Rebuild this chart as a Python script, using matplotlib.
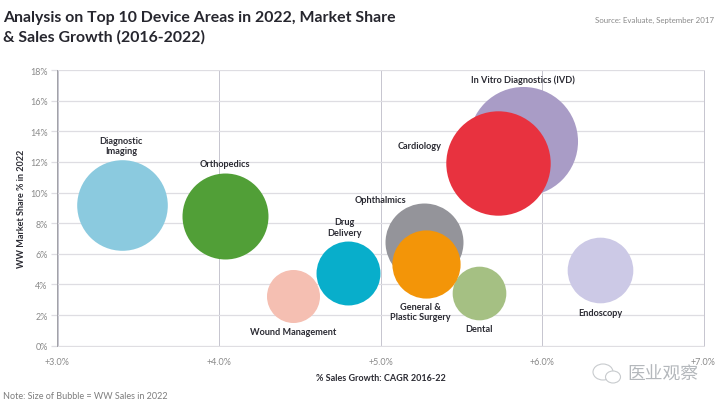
import matplotlib

matplotlib.use("Agg")
import matplotlib.pyplot as plt
from matplotlib.patches import Ellipse
from matplotlib.ticker import FuncFormatter

# values (draw order: back to front)
areas = ["Diagnostic\nImaging", "Orthopedics", "Wound Management", "Drug\nDelivery", "Ophthalmics",
         "Dental", "General &\nPlastic Surgery", "Endoscopy", "In Vitro Diagnostics (IVD)", "Cardiology"]
growth = [3.40, 4.035, 4.46, 4.80, 5.27, 5.61, 5.28, 6.36, 5.88, 5.73]
share = [9.2, 8.5, 3.22, 4.75, 6.78, 3.47, 5.35, 4.92, 13.35, 11.95]
sales = [48.2, 43.4, 16.5, 24.0, 35.7, 16.9, 27.3, 25.3, 69.8, 64.0]
colors = ["#8BCADF", "#519F37", "#F5BFB2", "#08AECB", "#94949A",
          "#A5C083", "#F39508", "#CCC9E6", "#A99CC6", "#E8323F"]
# label offset from bubble centre, in pixels
label_dx = [-1, 0, 0, -4, -44, 0, -5, 0, 0, -79]
label_dy = [59, 52, -35, 46, 42, -36, -48, -42, 62, 17]

x_ticks = [3, 4, 5, 6, 7]
y_ticks = [0, 2, 4, 6, 8, 10, 12, 14, 16, 18]

BUBBLE_SCALE = 88.3  # scatter s per unit of sales
C_TEXT = "#2b2b33"
C_TICK = "#8a8a8a"

plt.rcParams.update({
    "font.family": ["Lato", "DejaVu Sans"],
    "font.size": 7,
})

fig = plt.figure(figsize=(7.2, 4.06), dpi=100)
ax = fig.add_axes([57.5 / 720, 1 - 346.7 / 406, 646 / 720, 275.7 / 406])

ax.set_xlim(3, 7)
ax.set_ylim(0, 18)
ax.set_xticks(x_ticks)
ax.set_yticks(y_ticks)
ax.xaxis.set_major_formatter(FuncFormatter(lambda v, _: f"+{v:.1f}%"))
ax.yaxis.set_major_formatter(FuncFormatter(lambda v, _: f"{v:.0f}%"))
ax.grid(axis="y", color="#dedde2", lw=0.9, zorder=0)
ax.grid(axis="x", color="#c6c5cf", lw=0.7, zorder=0)
ax.set_axisbelow(True)
ax.tick_params(axis="y", length=4, width=0.9, color="#dedde2", labelsize=6.5, labelcolor=C_TICK, pad=3)
ax.tick_params(axis="x", length=0, labelsize=6.5, labelcolor=C_TICK, pad=8)
for name, sp in ax.spines.items():
    sp.set_color("#c6c5cf")
    sp.set_linewidth(0.7)
ax.spines["top"].set_color("#dedde2")
ax.spines["bottom"].set_color("#dedde2")
ax.spines["left"].set_color("#a0a0a6")

for i in range(len(areas)):
    ax.scatter(growth[i], share[i], s=sales[i] * BUBBLE_SCALE, color=colors[i], lw=0, zorder=3 + i,
               clip_on=False)
    ax.annotate(areas[i], (growth[i], share[i]), xytext=(label_dx[i], label_dy[i]),
                textcoords="offset pixels", ha="center", va="center", fontsize=6.6,
                fontweight="bold", color=C_TEXT, linespacing=1.2, zorder=20)

ax.set_xlabel("% Sales Growth: CAGR 2016-22", fontsize=6.5, fontweight="bold", color=C_TEXT, labelpad=5)
ax.set_ylabel("WW Market Share % in 2022", fontsize=6.5, fontweight="bold", color=C_TEXT, labelpad=3)

fig.text(3 / 720, 1 - 28 / 406, "Analysis on Top 10 Device Areas in 2022, Market Share\n& Sales Growth (2016-2022)",
         fontsize=11.45, fontweight="bold", color="#26262e", ha="left", va="center", linespacing=1.4)
fig.text(714 / 720, 1 - 20.5 / 406, "Source: Evaluate, September 2017", fontsize=5.65, color="#8a8a8a",
         ha="right", va="center")
fig.text(3 / 720, 1 - 397 / 406, "Note: Size of Bubble = WW Sales in 2022", fontsize=6.5, color="#7d7d7d",
         ha="left", va="center")

# watermark in the lower right corner
fig.text(627.5 / 720, 1 - 375 / 406, "医业观察", fontsize=12.8, color="#b4b8bc", ha="left", va="center",
         family=["Noto Sans CJK SC", "DejaVu Sans"])
wm = fig.add_axes([0, 0, 1, 1], facecolor="none")
wm.set_xlim(0, 720)
wm.set_ylim(406, 0)
wm.axis("off")
wm.add_patch(Ellipse((603, 373), 20, 16, fill=False, ec="#c8cbce", lw=0.8))
wm.add_patch(Ellipse((613, 378), 15, 12, fc="white", ec="#c8cbce", lw=0.8))

fig.savefig("out.png", dpi=100)
